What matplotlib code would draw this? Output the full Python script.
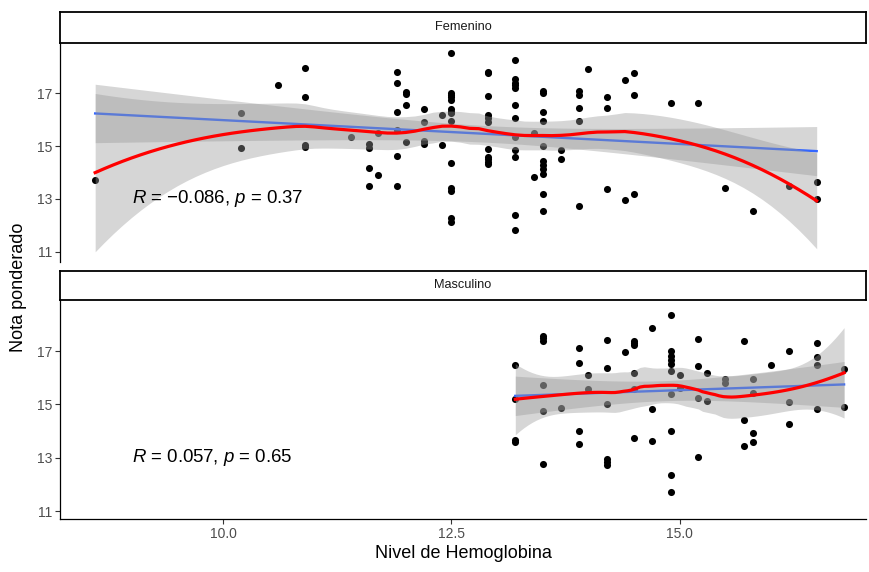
import numpy as np
import matplotlib
matplotlib.use("Agg")
import matplotlib.pyplot as plt

plt.rcParams['font.family'] = ['Liberation Sans', 'DejaVu Sans']
plt.rcParams['mathtext.fontset'] = 'custom'
plt.rcParams['mathtext.rm'] = 'Liberation Sans'
plt.rcParams['mathtext.it'] = 'Liberation Sans:italic'

# ---------------- data ----------------
fem_hb = [8.6,
          10.2, 10.2,
          10.6,
          10.9, 10.9, 10.9, 10.9,
          11.4,
          11.6, 11.6, 11.6, 11.6,
          11.7, 11.7,
          11.9, 11.9, 11.9, 11.9, 11.9, 11.9,
          12.0, 12.0, 12.0, 12.0,
          12.2, 12.2, 12.2, 12.2,
          12.4, 12.4,
          12.5, 12.5, 12.5, 12.5, 12.5, 12.5, 12.5, 12.5, 12.5, 12.5, 12.5, 12.5, 12.5, 12.5,
          12.9, 12.9, 12.9, 12.9, 12.9, 12.9, 12.9, 12.9, 12.9, 12.9, 12.9,
          13.2, 13.2, 13.2, 13.2, 13.2, 13.2, 13.2, 13.2, 13.2, 13.2, 13.2, 13.2,
          13.4, 13.4,
          13.5, 13.5, 13.5, 13.5, 13.5, 13.5, 13.5, 13.5, 13.5, 13.5, 13.5,
          13.7, 13.7,
          13.9, 13.9, 13.9, 13.9, 13.9,
          14.0,
          14.2, 14.2, 14.2,
          14.4, 14.4,
          14.5, 14.5, 14.5,
          14.9,
          15.2,
          15.5,
          15.8,
          16.2,
          16.5, 16.5]
fem_nota = [13.70,
            16.26, 14.91,
            17.30,
            17.95, 16.84, 14.96, 15.03,
            15.35,
            15.08, 14.91, 14.16, 13.50,
            13.92, 15.50,
            17.80, 17.37, 16.29, 15.60, 14.62, 13.50,
            17.05, 16.96, 16.56, 15.14,
            16.38, 15.92, 15.20, 15.08,
            16.16, 15.03,
            18.52, 17.01, 16.92, 16.84, 16.74, 16.38, 16.29, 16.23, 15.94, 14.35, 13.40, 13.31, 12.27, 12.14,
            17.80, 17.74, 16.89, 16.17, 16.05, 15.92, 14.89, 14.60, 14.50, 14.41, 14.32,
            18.25, 17.52, 17.39, 17.30, 17.18, 16.54, 16.05, 15.35, 14.85, 14.57, 12.41, 11.81,
            15.50, 13.84,
            17.09, 17.01, 16.29, 15.94, 15.00, 14.45, 14.28, 14.12, 13.94, 13.19, 12.56,
            14.85, 14.51,
            17.09, 16.92, 16.43, 15.94, 12.74,
            17.91,
            16.84, 16.43, 13.38,
            17.49, 12.96,
            17.75, 16.94, 13.19,
            16.63,
            16.63,
            13.43,
            12.56,
            13.50,
            13.65, 12.99]

mas_hb = [13.2, 13.2, 13.2, 13.2,
          13.5, 13.5, 13.5, 13.5, 13.5, 13.5,
          13.7,
          13.9, 13.9, 13.9, 13.9,
          14.0, 14.0,
          14.2, 14.2, 14.2, 14.2, 14.2, 14.2,
          14.4,
          14.5, 14.5, 14.5, 14.5, 14.5, 14.5,
          14.7, 14.7, 14.7,
          14.9, 14.9, 14.9, 14.9, 14.9, 14.9, 14.9, 14.9, 14.9, 14.9,
          15.0, 15.0,
          15.2, 15.2, 15.2, 15.2,
          15.3, 15.3,
          15.5, 15.5,
          15.7, 15.7, 15.7,
          15.8, 15.8, 15.8, 15.8,
          16.0,
          16.2, 16.2, 16.2,
          16.5, 16.5, 16.5, 16.5,
          16.8, 16.8]
mas_nota = [16.47, 15.21, 13.68, 13.58,
            17.58, 17.48, 17.39, 15.72, 14.77, 12.77,
            14.85,
            17.10, 16.55, 13.99, 13.53,
            16.09, 15.57,
            17.43, 16.36, 15.03, 12.95, 12.84, 12.74,
            16.95,
            17.39, 17.30, 17.23, 16.17, 15.59, 13.73,
            17.88, 14.84, 13.62,
            18.36, 17.01, 16.82, 16.66, 16.51, 16.26, 15.41, 13.99, 12.36, 11.73,
            16.09, 15.63,
            17.45, 16.45, 15.25, 13.03,
            16.17, 15.13,
            15.94, 15.82,
            17.39, 14.43, 13.45,
            15.97, 15.44, 13.93, 13.58,
            16.47,
            17.01, 15.10, 14.28,
            17.30, 16.79, 16.47, 14.81,
            16.32, 14.90]

facet_labels = ["Femenino", "Masculino"]
stat_labels = [r"$R$ = $-$0.086, $p$ = 0.37", r"$R$ = 0.057, $p$ = 0.65"]
x_ticks = [10.0, 12.5, 15.0]
y_ticks = [11, 13, 15, 17]


# ---------------- smoothing helpers ----------------
def t_quant(df, z=1.959964):
    return (z + (z**3 + z) / (4 * df) + (5 * z**5 + 16 * z**3 + 3 * z) / (96 * df**2))


def lm_fit(x, y, xs):
    x = np.asarray(x, float); y = np.asarray(y, float)
    n = len(x)
    b1, b0 = np.polyfit(x, y, 1)
    res = y - (b0 + b1 * x)
    s = np.sqrt(np.sum(res**2) / (n - 2))
    sxx = np.sum((x - x.mean())**2)
    fit = b0 + b1 * xs
    se = s * np.sqrt(1 / n + (xs - x.mean())**2 / sxx)
    t = t_quant(n - 2)
    return fit, fit - t * se, fit + t * se


def loess_fit(x, y, xs, span=0.75):
    x = np.asarray(x, float); y = np.asarray(y, float)
    n = len(x)
    q = int(np.floor(n * span))

    def lvec(x0):
        d = np.abs(x - x0)
        h = np.sort(d)[q - 1] * 1.0000001
        w = np.clip(1 - (d / h)**3, 0, None)**3
        X = np.column_stack([np.ones(n), x - x0, (x - x0)**2])
        W = X * w[:, None]
        A = X.T @ W
        return np.linalg.solve(A, W.T)[0]

    L = np.array([lvec(xi) for xi in x])
    res = y - L @ y
    M = np.eye(n) - L
    MM = M.T @ M
    d1 = np.trace(MM)
    d2 = np.trace(MM @ MM)
    s = np.sqrt(np.sum(res**2) / d1)
    df = d1**2 / d2
    Ls = np.array([lvec(x0) for x0 in xs])
    fit = Ls @ y
    se = s * np.sqrt((Ls**2).sum(axis=1))
    t = t_quant(df)
    return fit, fit - t * se, fit + t * se


# ---------------- figure ----------------
W, H = 869, 572
fig = plt.figure(figsize=(W / 100, H / 100), dpi=100)

left, right = 60 / W, 866 / W
panels = [(43, 262), (300, 519)]
strips = [(12, 43), (271, 300)]
xlim = (8.215, 17.04)
ylims = [(10.62, 18.89), (10.70, 18.92)]

data = [(fem_hb, fem_nota), (mas_hb, mas_nota)]
ribbon_col = '#999999'

for i, ((top, bot), (st, sb)) in enumerate(zip(panels, strips)):
    ax = fig.add_axes([left, 1 - bot / H, right - left, (bot - top) / H])
    x, y = data[i]
    xs = np.linspace(min(x), max(x), 80)
    ax.scatter(x, y, s=26, color='black', linewidths=0, zorder=2)
    f, lo, hi = lm_fit(x, y, xs)
    ax.fill_between(xs, lo, hi, color=ribbon_col, alpha=0.4, linewidth=0, zorder=3)
    ax.plot(xs, f, color='#3366FF', lw=1.7, zorder=4)
    f2, lo2, hi2 = loess_fit(x, y, xs)
    ax.fill_between(xs, lo2, hi2, color=ribbon_col, alpha=0.4, linewidth=0, zorder=5)
    ax.plot(xs, f2, color='#FF0000', lw=2.3, zorder=6)
    ax.text(9.0, 13.0, stat_labels[i], fontsize=13.4, ha='left', va='center',
            color='black', zorder=7)

    ax.set_xlim(*xlim)
    ax.set_ylim(*ylims[i])
    ax.set_yticks(y_ticks)
    ax.set_yticklabels([str(v) for v in y_ticks])
    ax.set_xticks(x_ticks)
    for sp in ['top', 'right']:
        ax.spines[sp].set_visible(False)
    ax.spines['left'].set_linewidth(0.9)
    ax.spines['bottom'].set_linewidth(0.9)
    ax.tick_params(axis='both', colors='#333333', labelcolor='#4d4d4d',
                   labelsize=10, length=3.5, width=0.8, pad=2)
    if i == 0:
        ax.spines['bottom'].set_visible(False)
        ax.tick_params(axis='x', bottom=False, labelbottom=False)
    else:
        ax.set_xticklabels(["%.1f" % v for v in x_ticks])
        ax.set_xlabel("Nivel de Hemoglobina", fontsize=13, color='black', labelpad=3)

    sax = fig.add_axes([left, 1 - sb / H, right - left, (sb - st) / H])
    sax.set_xticks([]); sax.set_yticks([])
    sax.set_facecolor('white')
    for sp in sax.spines.values():
        sp.set_linewidth(1.3)
        sp.set_color('black')
    sax.text(0.5, 0.5, facet_labels[i], transform=sax.transAxes, ha='center',
             va='center', fontsize=9.2, color='#1a1a1a')

fig.text(19 / W, 1 - 287 / H, "Nota ponderado", rotation=90, ha='center',
         va='center', fontsize=13, color='black')

fig.savefig("out.png", dpi=100)
